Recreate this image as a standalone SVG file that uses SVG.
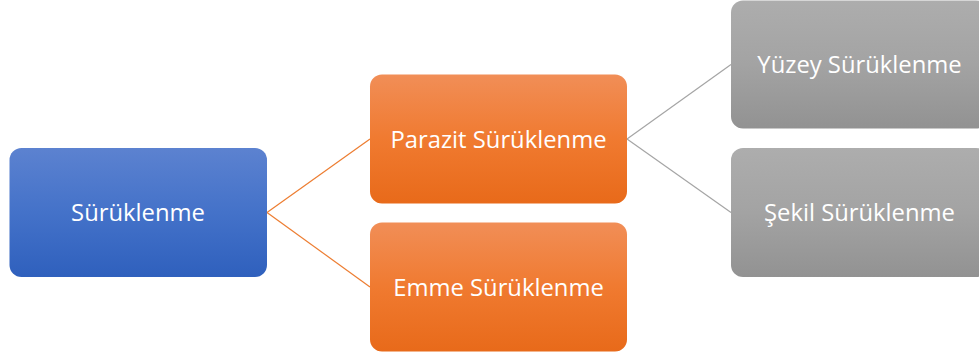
<svg xmlns="http://www.w3.org/2000/svg" width="979" height="353" viewBox="0 0 979 353">
<defs>
<linearGradient id="gb" x1="0" y1="0" x2="0" y2="1"><stop offset="0" stop-color="#5c82d0"/><stop offset="0.5" stop-color="#4472c9"/><stop offset="1" stop-color="#2f60bd"/></linearGradient>
<linearGradient id="go" x1="0" y1="0" x2="0" y2="1"><stop offset="0" stop-color="#f18e57"/><stop offset="0.5" stop-color="#f07a30"/><stop offset="1" stop-color="#e86a1a"/></linearGradient>
<linearGradient id="gg" x1="0" y1="0" x2="0" y2="1"><stop offset="0" stop-color="#adadad"/><stop offset="0.5" stop-color="#a3a3a3"/><stop offset="1" stop-color="#929292"/></linearGradient>
</defs>
<style>
.t{font-family:"Open Sans","Noto Sans",sans-serif;font-size:23.8px;fill:#ffffff;text-anchor:middle}
.lo{stroke:#ed7d31;stroke-width:1.2;fill:none}
.lg{stroke:#a5a5a5;stroke-width:1.2;fill:none}
</style>
<rect width="979" height="353" fill="#ffffff"/>
<g id="connectors">
<path class="lo" d="M267,212.5 L370,139"/>
<path class="lo" d="M267,212.5 L370,287"/>
<path class="lg" d="M627,139 L731,64.5"/>
<path class="lg" d="M627,139 L731,212.5"/>
</g>
<g id="n1"><rect x="9.5" y="148" width="257.5" height="129" rx="12" fill="url(#gb)"/><text class="t" x="138" y="221">Sürüklenme</text></g>
<g id="n2"><rect x="370" y="74.5" width="257" height="129" rx="12" fill="url(#go)"/><text class="t" x="498.5" y="147.5">Parazit Sürüklenme</text></g>
<g id="n3"><rect x="370" y="222.5" width="257" height="129" rx="12" fill="url(#go)"/><text class="t" x="498.5" y="295.5">Emme Sürüklenme</text></g>
<g id="n4"><rect x="731" y="0.5" width="257" height="128" rx="12" fill="url(#gg)"/><text class="t" x="859.5" y="73">Yüzey Sürüklenme</text></g>
<g id="n5"><rect x="731" y="148" width="257" height="129" rx="12" fill="url(#gg)"/><text class="t" x="859.5" y="221">Şekil Sürüklenme</text></g>
</svg>
